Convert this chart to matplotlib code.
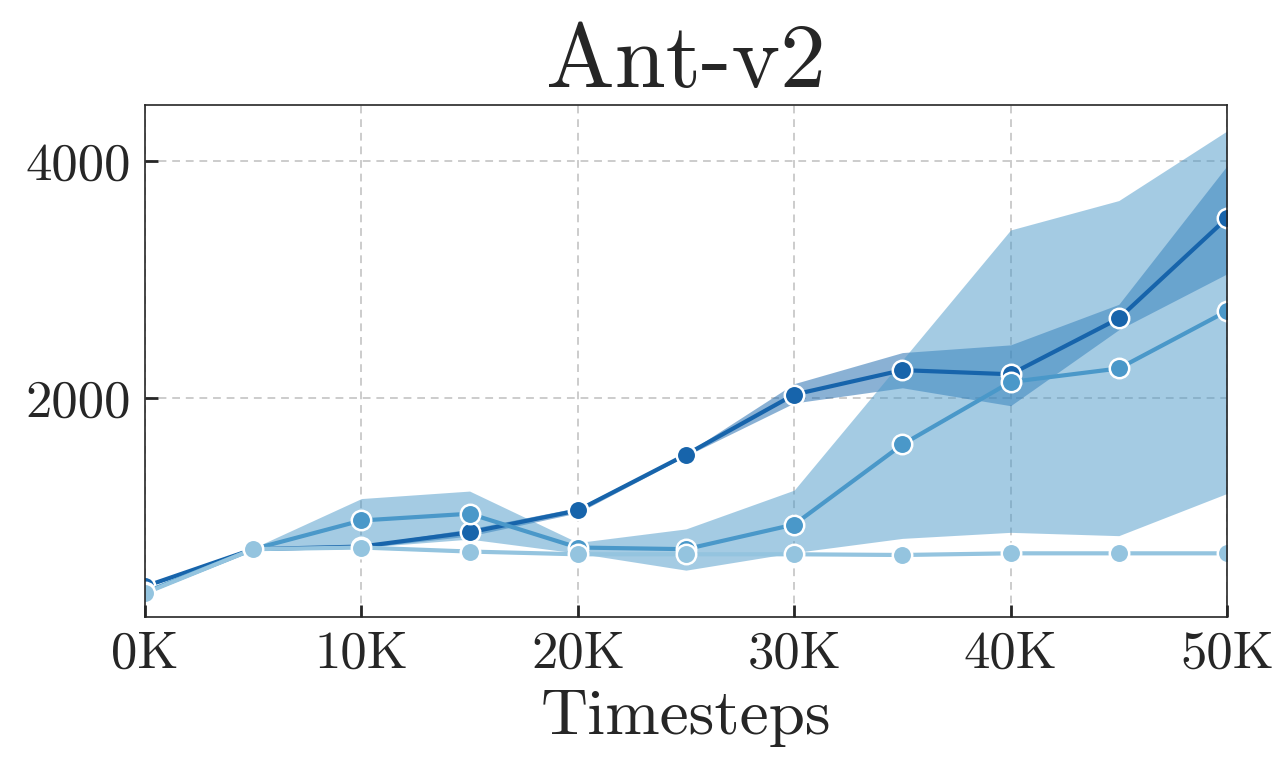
import matplotlib
matplotlib.use("Agg")
import matplotlib.pyplot as plt
from matplotlib.ticker import FuncFormatter

plt.rcParams['font.family'] = ['cmr10', 'DejaVu Serif']
plt.rcParams['axes.formatter.use_mathtext'] = True

# data: timesteps and mean / band for each run
steps = [0, 5000, 10000, 15000, 20000, 25000, 30000, 35000, 40000, 45000, 50000]

dark_mean = [410, 724, 746, 866, 1051, 1521, 2028, 2234, 2199, 2670, 3516]
dark_low = [400, 715, 736, 835, 1030, 1510, 1957, 2085, 1934, 2575, 3046]
dark_high = [420, 733, 756, 895, 1075, 1532, 2120, 2382, 2447, 2789, 3957]

mid_mean = [360, 724, 966, 1023, 738, 724, 932, 1607, 2134, 2248, 2732]
mid_low = [350, 715, 738, 809, 690, 547, 695, 815, 866, 838, 1194]
mid_high = [370, 733, 1151, 1214, 780, 895, 1222, 2319, 3416, 3664, 4251]

light_mean = [353, 724, 738, 704, 681, 681, 681, 675, 689, 689, 689]
light_low = [345, 716, 730, 696, 673, 673, 673, 667, 681, 681, 681]
light_high = [361, 732, 746, 712, 689, 689, 689, 683, 697, 697, 697]

colors = ['#1764ab', '#4a98c9', '#94c4df']
runs = [(dark_mean, dark_low, dark_high),
        (mid_mean, mid_low, mid_high),
        (light_mean, light_low, light_high)]

fig = plt.figure(figsize=(12.86, 7.58), dpi=100)
ax = fig.add_axes([145 / 1286, 1 - 617 / 758, 1082 / 1286, 512 / 758])

for (m, lo, hi), c in zip(runs, colors):
    ax.fill_between(steps, lo, hi, color=c, alpha=0.5, linewidth=0, zorder=1)
for (m, lo, hi), c in zip(runs, colors):
    ax.plot(steps, m, color=c, linewidth=3, marker='o', markersize=14,
            markeredgecolor='white', markeredgewidth=1.8, zorder=2)

ax.set_xlim(0, 50000)
ax.set_ylim(152, 4470)
ax.set_xticks([0, 10000, 20000, 30000, 40000, 50000])
ax.set_yticks([2000, 4000])
ax.xaxis.set_major_formatter(FuncFormatter(lambda v, p: '%dK' % (v / 1000)))
ax.yaxis.set_major_formatter(FuncFormatter(lambda v, p: '%d' % v))
ax.grid(True, linestyle=(0, (4, 3)), color='#cccccc', linewidth=1.4)
ax.set_axisbelow(True)
ax.tick_params(direction='in', length=9, width=2, colors='#262626',
               labelsize=38, pad=10)
for s in ax.spines.values():
    s.set_color('#262626')
    s.set_linewidth(1.2)

ax.set_title('Ant-v2', fontsize=66, color='#262626', pad=8)
ax.set_xlabel('Timesteps', fontsize=47, color='#262626', labelpad=8)

fig.savefig('out.png', dpi=100)
